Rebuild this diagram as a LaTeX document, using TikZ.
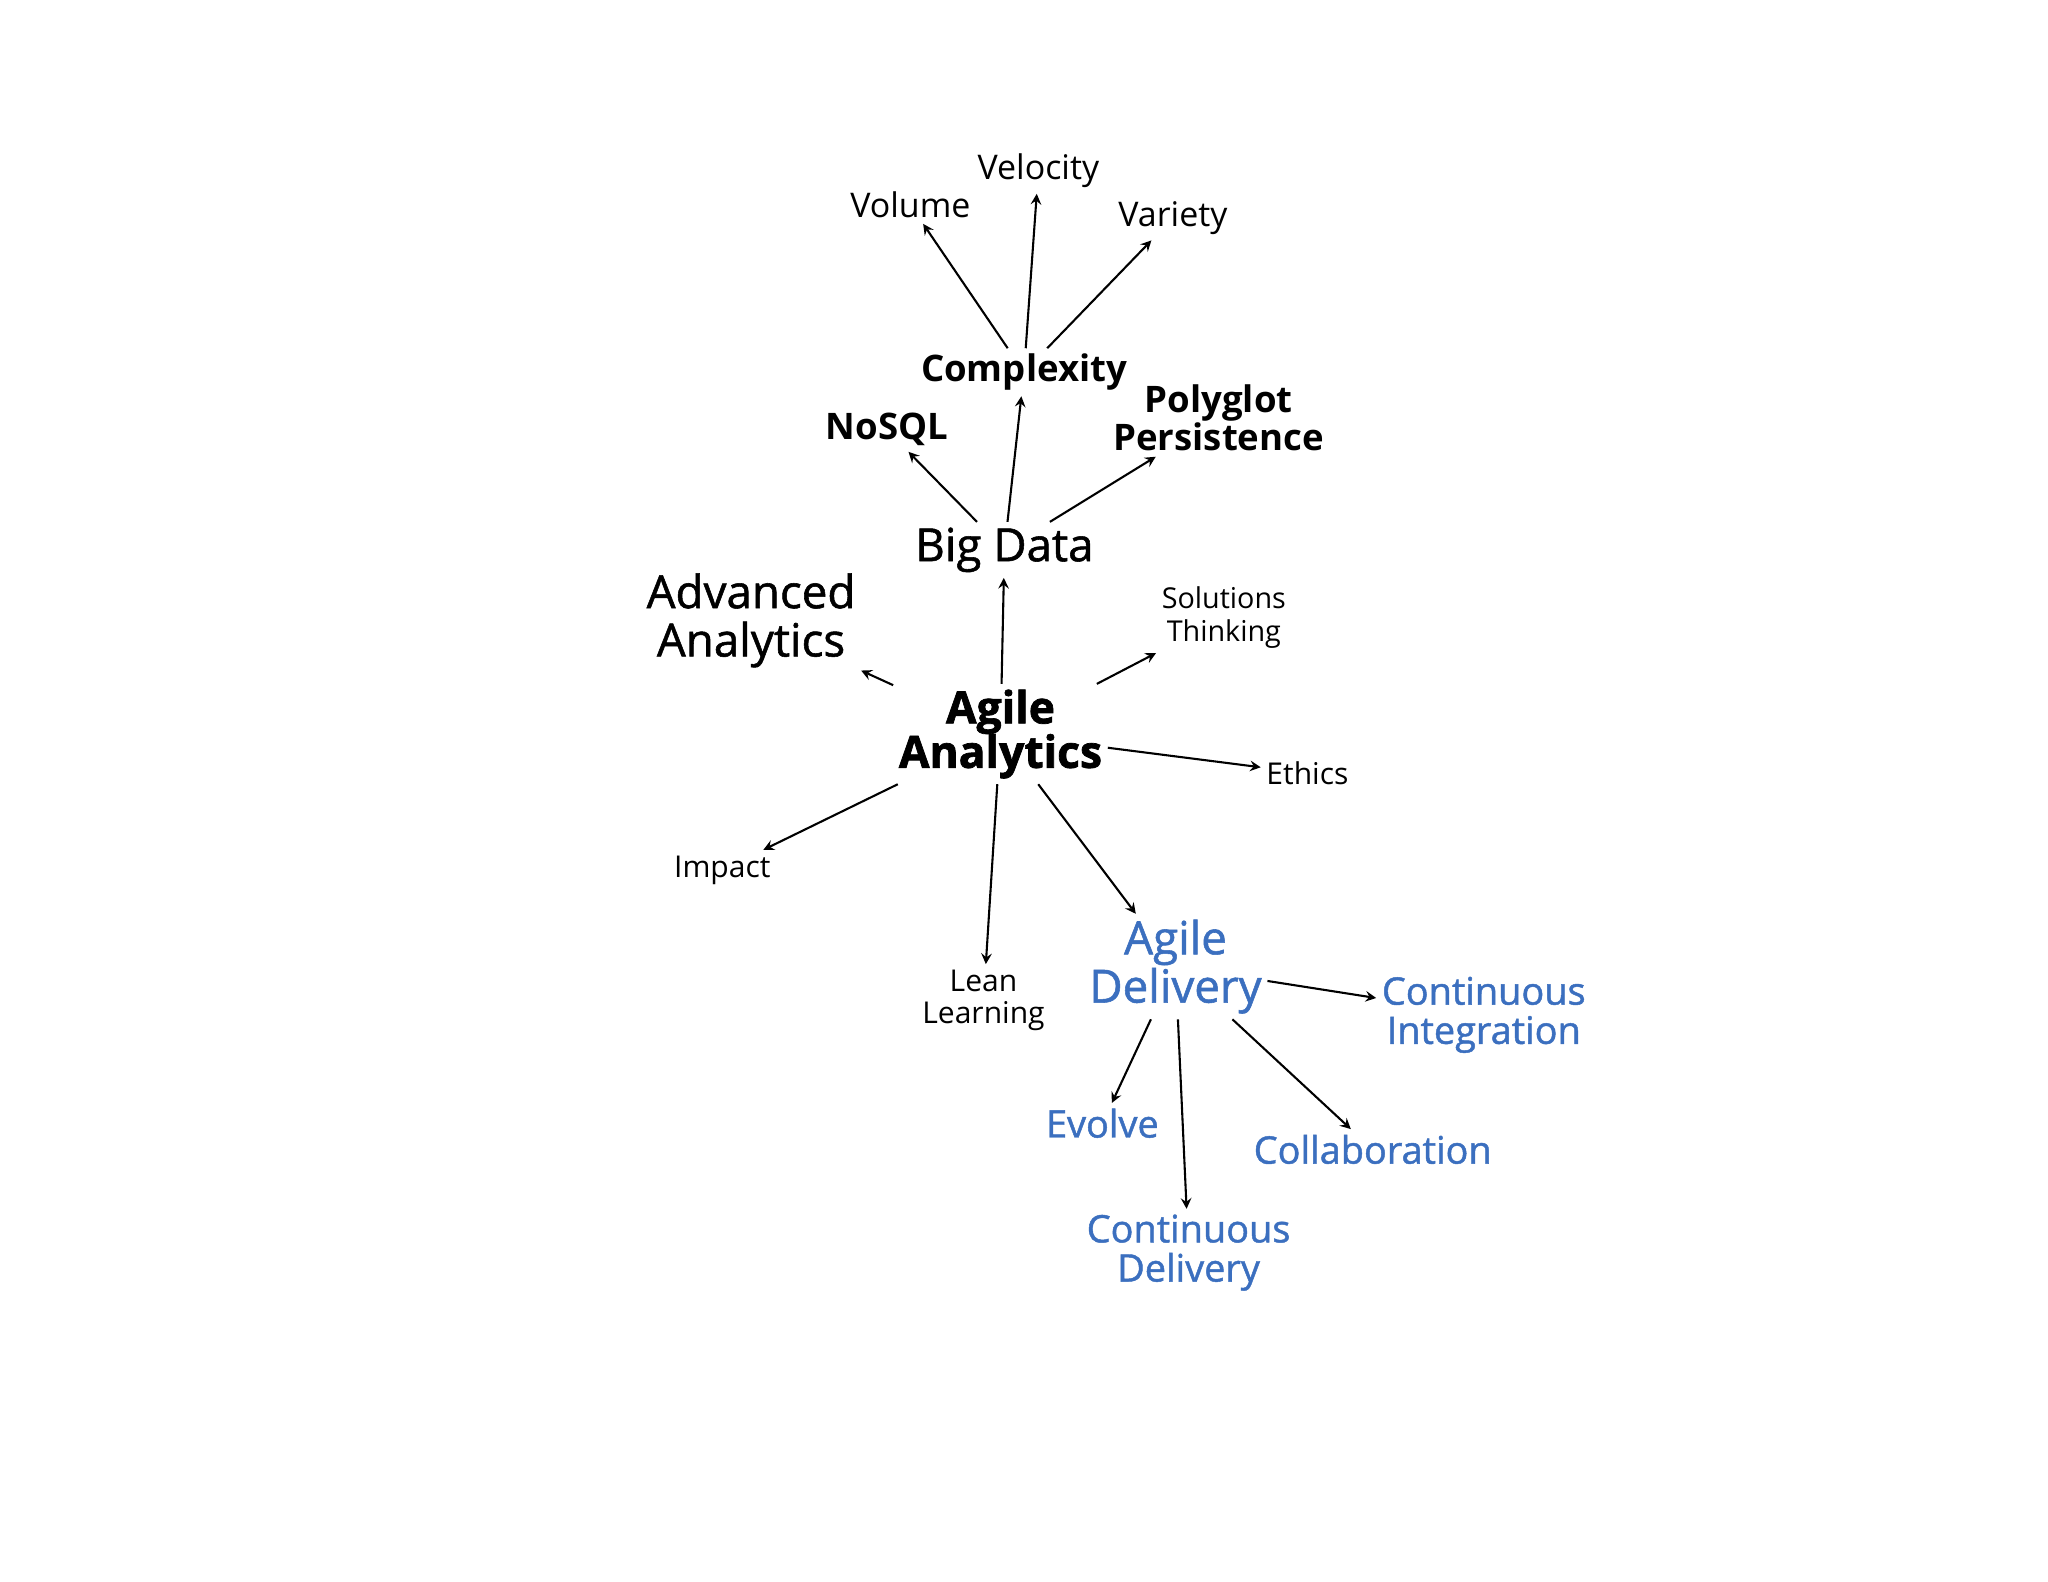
\documentclass[tikz,border=0pt]{standalone}
\usepackage{fontspec}
\setmainfont{Open Sans}
\newfontfamily\semib[FakeBold=1.2]{Open Sans}
\newfontfamily\xbold[FakeBold=1.6]{Open Sans}
\definecolor{dblue}{HTML}{3B6FBF}
\begin{document}
\begin{tikzpicture}[x=0.5pt,y=-0.5pt,
  lbl/.style={inner sep=2pt,align=center},
  arr/.style={-stealth,line width=0.8pt}]
\useasboundingbox (0,0) rectangle (1568,1211);
\fill[white] (0,0) rectangle (1568,1211);
\def\fs#1#2{\fontsize{#1}{#2}\selectfont}
\node[lbl,font=\fs{13}{15}] (vel) at (795,131) {Velocity};
\node[lbl,font=\fs{13}{15}] (vol) at (697,157) {Volume};
\node[lbl,font=\fs{13}{15}] (var) at (898,167) {Variety};
\node[lbl,font=\fs{14}{14.5}\bfseries] (cx) at (784,285) {Complexity};
\node[lbl,font=\fs{14}{14.5}\bfseries] (nosql) at (679,329) {NoSQL};
\node[lbl,font=\fs{14}{14.5}\bfseries] (poly) at (933,320) {Polyglot\\Persistence};
\node[lbl,font=\semib\fs{17.5}{18.5}] (bd) at (769,421) {Big Data};
\node[lbl,font=\semib\fs{17.5}{18.5}] (adv) at (575,475) {Advanced\\Analytics};
\node[lbl,font=\fs{11}{12.5}] (sol) at (937,473) {Solutions\\Thinking};
\node[lbl,font=\xbold\bfseries\fs{17}{17}] (aa) at (766,562) {Agile\\Analytics};
\node[lbl,font=\fs{11.5}{12.5}] (eth) at (1001,592) {Ethics};
\node[lbl,font=\fs{11.5}{12.5}] (imp) at (553,666) {Impact};
\node[lbl,font=\fs{11.5}{12.5}] (lean) at (753,766) {Lean\\Learning};
\node[lbl,text=dblue,font=\semib\fs{17.5}{18.5}] (ad) at (900,740) {Agile\\Delivery};
\node[lbl,text=dblue,font=\semib\fs{14.5}{15}] (ci) at (1136,777) {Continuous\\Integration};
\node[lbl,text=dblue,font=\semib\fs{14.5}{15}] (evo) at (844,860) {Evolve};
\node[lbl,text=dblue,font=\semib\fs{14.5}{15}] (col) at (1051,880) {Collaboration};
\node[lbl,text=dblue,font=\semib\fs{14.5}{15}] (cd) at (910,959) {Continuous\\Delivery};
\draw[arr] (cx) -- (vol);
\draw[arr] (cx) -- (vel);
\draw[arr] (cx) -- (var);
\draw[arr] (bd) -- (nosql);
\draw[arr] (bd) -- (cx);
\draw[arr] (bd) -- (poly);
\draw[arr] (aa) -- (bd);
\draw[arr] (aa) -- (adv);
\draw[arr] (aa) -- (sol);
\draw[arr] (aa) -- (eth);
\draw[arr] (aa) -- (imp);
\draw[arr] (aa) -- (lean);
\draw[arr] (aa) -- (ad);
\draw[arr] (ad) -- (ci);
\draw[arr] (ad) -- (evo);
\draw[arr] (ad) -- (cd);
\draw[arr] (ad) -- (col);
\end{tikzpicture}
\end{document}
